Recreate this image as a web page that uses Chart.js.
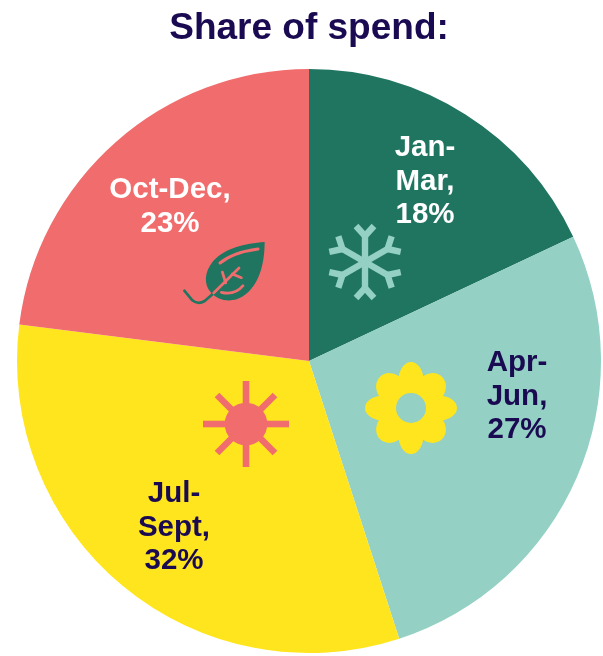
<!DOCTYPE html>
<html>
<head>
<meta charset="utf-8">
<style>
html,body{margin:0;padding:0;background:#fff;}
canvas{display:block;}
</style>
<script src="https://cdn.jsdelivr.net/npm/chart.js@4"></script>
</head>
<body>
<canvas id="c" width="603" height="656"></canvas>
<script>
const categories = ['Jan-Mar', 'Apr-Jun', 'Jul-Sept', 'Oct-Dec'];
const shares = [18, 27, 32, 23];
const labelLines = [['Jan-', 'Mar,', '18%'], ['Apr-', 'Jun,', '27%'], ['Jul-', 'Sept,', '32%'], ['Oct-Dec,', '23%']];
const sliceColours = ['#207561', '#94d0c4', '#ffe51e', '#f16d6d'];
const labelColours = ['#ffffff', '#1a0a52', '#1a0a52', '#ffffff'];
const titleText = 'Share of spend:';

// Layout: offsets from the pie centre, in pixels of the 292px radius
const labelOffsets = [[116, -213], [208, 2], [-135, 133], [-139, -171]];
const lineGap = 33.5;
const C = {green: '#207561', mint: '#94d0c4', yellow: '#ffe51e', coral: '#f16d6d'};

function snowflake(ctx, x, y) {
  ctx.save(); ctx.translate(x, y);
  ctx.strokeStyle = C.mint; ctx.lineWidth = 6.4; ctx.lineCap = 'butt'; ctx.lineJoin = 'miter';
  for (let i = 0; i < 6; i++) {
    ctx.save(); ctx.rotate(i * Math.PI / 3);
    ctx.beginPath(); ctx.moveTo(0, 0); ctx.lineTo(0, -27); ctx.stroke();
    ctx.beginPath(); ctx.moveTo(-9, -36); ctx.lineTo(0, -26); ctx.lineTo(9, -36); ctx.stroke();
    ctx.restore();
  }
  ctx.restore();
}
function flower(ctx, x, y) {
  ctx.save(); ctx.translate(x, y);
  ctx.fillStyle = C.yellow;
  for (let i = 0; i < 8; i++) {
    ctx.save(); ctx.rotate(i * Math.PI / 4);
    ctx.beginPath();
    if (i % 2) ctx.ellipse(0, -27, 14.5, 17, 0, 0, Math.PI * 2);
    else ctx.ellipse(0, -27, 12.6, 19, 0, 0, Math.PI * 2);
    ctx.fill();
    ctx.restore();
  }
  ctx.beginPath(); ctx.arc(0, 0, 28, 0, Math.PI * 2); ctx.fill();
  ctx.fillStyle = C.mint;
  ctx.beginPath(); ctx.arc(0, 0, 15, 0, Math.PI * 2); ctx.fill();
  ctx.restore();
}
function sun(ctx, x, y) {
  ctx.save(); ctx.translate(x, y);
  ctx.fillStyle = C.coral;
  ctx.beginPath(); ctx.arc(0, 0, 21.3, 0, Math.PI * 2); ctx.fill();
  for (let i = 0; i < 8; i++) {
    ctx.save(); ctx.rotate(i * Math.PI / 4);
    ctx.fillRect(-3.3, i % 2 ? -41 : -43, 6.6, 30);
    ctx.restore();
  }
  ctx.restore();
}
function leaf(ctx, x, y) {
  // drawn in the crop's own units (3 per pixel), origin at the leaf's centre
  ctx.save(); ctx.translate(x, y); ctx.scale(1 / 3, 1 / 3); ctx.translate(-190, -130);
  ctx.fillStyle = C.green;
  ctx.beginPath();
  ctx.moveTo(285, 37);
  ctx.bezierCurveTo(225, 42, 165, 55, 130, 95);
  ctx.bezierCurveTo(105, 125, 100, 165, 125, 190);
  ctx.bezierCurveTo(145, 212, 185, 222, 220, 200);
  ctx.bezierCurveTo(265, 170, 285, 110, 285, 37);
  ctx.closePath(); ctx.fill();
  ctx.strokeStyle = C.green; ctx.lineWidth = 8; ctx.lineCap = 'round'; ctx.lineJoin = 'round';
  ctx.beginPath();
  ctx.moveTo(130, 192);
  ctx.lineTo(105, 214);
  ctx.quadraticCurveTo(85, 226, 68, 212);
  ctx.lineTo(44, 183);
  ctx.stroke();
  ctx.strokeStyle = C.coral; ctx.lineWidth = 9;
  ctx.beginPath(); ctx.moveTo(151, 100); ctx.quadraticCurveTo(190, 68, 265, 58); ctx.stroke();
  ctx.lineWidth = 8;
  ctx.beginPath(); ctx.moveTo(132, 190); ctx.lineTo(208, 115); ctx.stroke();
  ctx.beginPath(); ctx.moveTo(158, 127); ctx.lineTo(168, 160); ctx.stroke();
  ctx.beginPath(); ctx.moveTo(188, 133); ctx.lineTo(215, 144); ctx.stroke();
  ctx.beginPath(); ctx.moveTo(155, 188); ctx.quadraticCurveTo(195, 198, 220, 168); ctx.stroke();
  ctx.restore();
}

const decorations = {
  id: 'decorations',
  afterDatasetsDraw(chart) {
    const ctx = chart.ctx;
    const arc = chart.getDatasetMeta(0).data[0];
    const cx = arc.x, cy = arc.y, k = arc.outerRadius / 292;
    snowflake(ctx, cx + 56 * k, cy - 99 * k);
    flower(ctx, cx + 102 * k, cy + 47 * k);
    sun(ctx, cx - 63 * k, cy + 63 * k);
    leaf(ctx, cx - 76 * k, cy - 88 * k);
    ctx.save();
    ctx.font = 'bold 29.5px "Liberation Sans", Arial, sans-serif';
    ctx.textAlign = 'center'; ctx.textBaseline = 'middle';
    labelLines.forEach((lines, i) => {
      ctx.fillStyle = labelColours[i];
      const [dx, dy] = labelOffsets[i];
      lines.forEach((t, j) => {
        ctx.fillText(t, cx + dx * k, cy + (dy + j * lineGap) * k);
      });
    });
    ctx.restore();
  }
};

new Chart(document.getElementById('c'), {
  type: 'pie',
  data: {
    labels: categories,
    datasets: [{data: shares, backgroundColor: sliceColours, borderWidth: 0, hoverOffset: 0}]
  },
  plugins: [decorations],
  options: {
    responsive: false,
    animation: false,
    layout: {padding: {left: 17, right: 2, top: 0, bottom: 3}},
    plugins: {
      legend: {display: false},
      tooltip: {enabled: false},
      title: {
        display: true,
        text: titleText,
        color: '#1a0a52',
        fullSize: false,
        font: {family: '"Liberation Sans", Arial, sans-serif', size: 37, weight: 'bold', lineHeight: 1.2},
        padding: {top: 7, bottom: 17.6}
      }
    }
  }
});
</script>
</body>
</html>
